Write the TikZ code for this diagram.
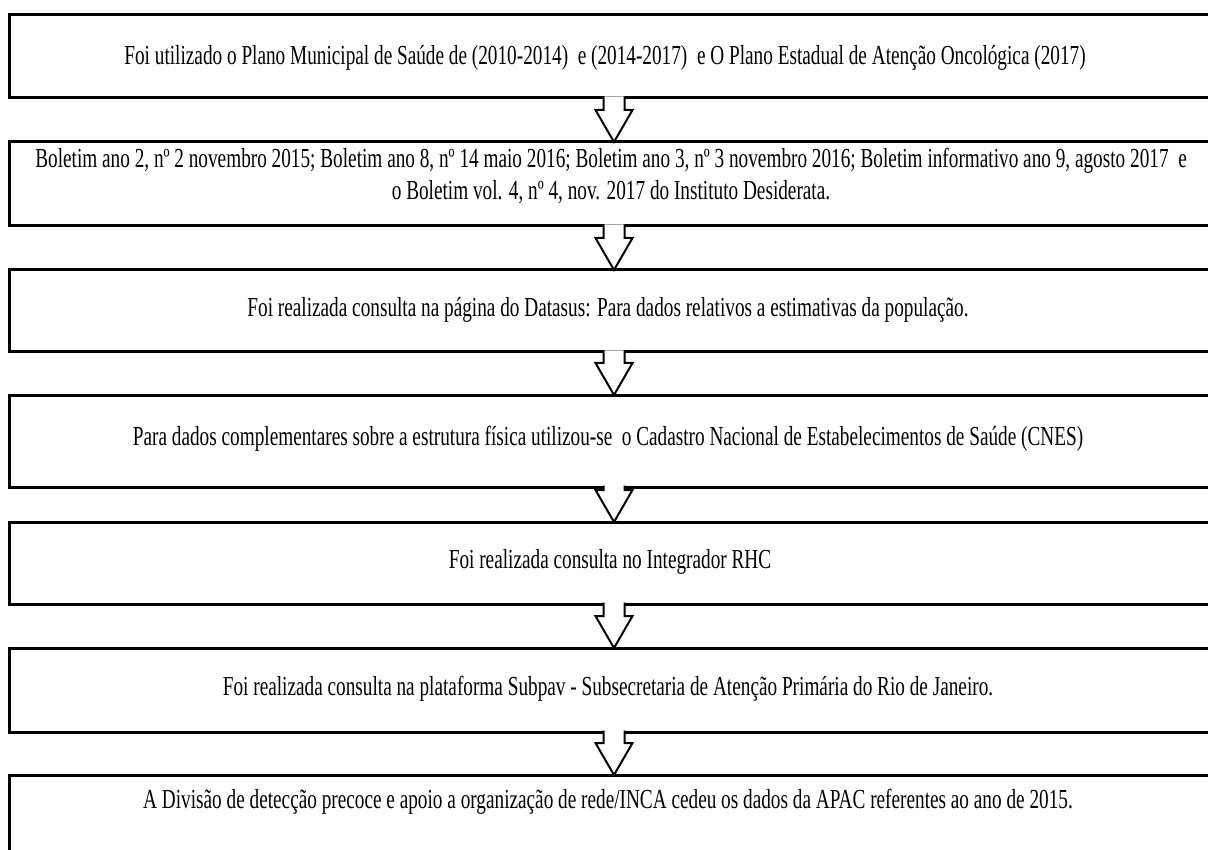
\documentclass[tikz,border=0pt]{standalone}
\usepackage{fontspec}
\setmainfont[FakeStretch=0.70]{Liberation Serif}
\usetikzlibrary{calc}

\tikzset{
  stage/.style={draw=black, line width=3pt, fill=white, rectangle,
                minimum width=1203pt, outer sep=0pt, inner sep=0pt},
  caption/.style={font=\fontsize{27.5}{32}\selectfont, align=center, inner sep=0pt},
  flowline/.style={draw=black, fill=white, line width=2pt, line join=miter}
}

% block arrow from the bottom edge of #1 to the top edge of #2
\newcommand\blockarrow[2]{%
  \filldraw[flowline] let \p1=(#1.south), \p2=(#2.north) in
    (\x1-7pt,\y1+1.5pt) -- (\x1-7pt,\y2+32pt) -- (\x1-15pt,\y2+32pt)
    -- (\x1+3.5pt,\y2) -- (\x1+22pt,\y2+32pt) -- (\x1+14pt,\y2+32pt)
    -- (\x1+14pt,\y1+1.5pt);
}

\begin{document}
\begin{tikzpicture}[x=1pt,y=-1pt]
  \useasboundingbox (0,0) rectangle (1208,850);
  \fill[white] (0,0) rectangle (1208,850);
  \clip (0,0) rectangle (1208,850);

  \node[stage, minimum height=83pt] (b1) at (610.5,56.5) {};
  \node[caption] (t1) at (605,58) {Foi utilizado o Plano Municipal de Saúde de (2010-2014) \ e (2014-2017) \ e O Plano Estadual de Atenção Oncológica (2017)};

  \node[stage, minimum height=84pt] (b2) at (610.5,184) {};
  \node[caption] (t2) at (611,176) {Boletim ano 2, nº 2 novembro 2015; Boletim ano 8, nº 14 maio 2016; Boletim ano 3, nº 3 novembro 2016; Boletim informativo ano 9, agosto 2017 \ e\\ o Boletim vol. 4, nº 4, nov. 2017 do Instituto Desiderata.};

  \node[stage, minimum height=82pt] (b3) at (610.5,311) {};
  \node[caption] (t3) at (608,310) {Foi realizada consulta na página do Datasus: Para dados relativos a estimativas da população.};

  \node[stage, minimum height=92pt] (b4) at (610.5,441) {};
  \node[caption] (t4) at (608,439) {Para dados complementares sobre a estrutura física utilizou-se \,o Cadastro Nacional de Estabelecimentos de Saúde (CNES)};

  \node[stage, minimum height=82pt] (b5) at (610.5,563) {};
  \node[caption] (t5) at (610,562) {Foi realizada consulta no Integrador RHC};

  \node[stage, minimum height=84pt] (b6) at (610.5,690) {};
  \node[caption] (t6) at (608,689) {Foi realizada consulta na plataforma Subpav - Subsecretaria de Atenção Primária do Rio de Janeiro.};

  \node[stage, minimum height=110pt] (b7) at (610.5,830) {};
  \node[caption] (t7) at (608,802) {A Divisão de detecção precoce e apoio a organização de rede/INCA cedeu os dados da APAC referentes ao ano de 2015.};

  \blockarrow{b1}{b2}
  \blockarrow{b2}{b3}
  \blockarrow{b3}{b4}
  \blockarrow{b4}{b5}
  \blockarrow{b5}{b6}
  \blockarrow{b6}{b7}
\end{tikzpicture}
\end{document}
